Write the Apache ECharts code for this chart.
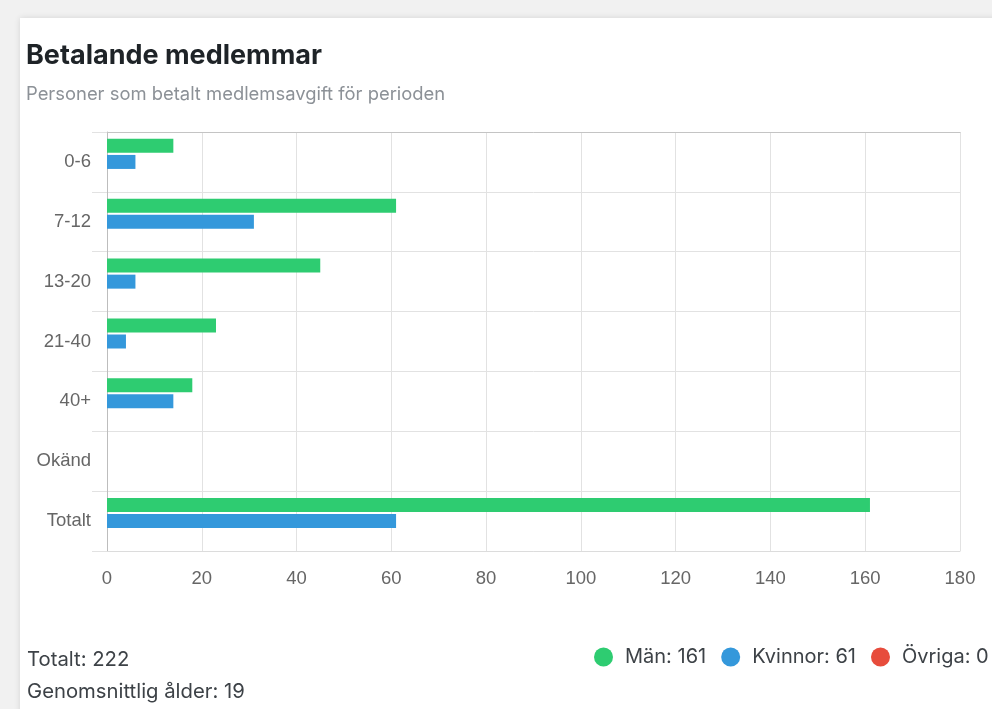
<!DOCTYPE html>
<html>
<head>
<meta charset="utf-8">
<script src="https://cdn.jsdelivr.net/npm/echarts@6/dist/echarts.min.js"></script>
<style>
  html, body { margin: 0; padding: 0; width: 992px; height: 709px; overflow: hidden; background: #f1f1f1; }
  #card { position: absolute; left: 20px; top: 18px; width: 1000px; height: 720px; background: #fff;
          box-shadow: 0 0 6px rgba(0,0,0,0.12); }
  #chart { position: absolute; left: 0; top: 0; width: 992px; height: 709px; }
</style>
</head>
<body>
<div id="card"></div>
<div id="chart"></div>
<script>
const categories = ['0-6', '7-12', '13-20', '21-40', '40+', 'Okänd', 'Totalt'];
const manValues = [14, 61, 45, 23, 18, 0, 161];
const kvinnorValues = [6, 31, 6, 4, 14, 0, 61];
const ovrigaValues = [0, 0, 0, 0, 0, 0, 0];
const xTicks = { min: 0, max: 180, interval: 20 };
const titleText = 'Betalande medlemmar';
const subtitleText = 'Personer som betalt medlemsavgift för perioden';
const totalText = 'Totalt: 222';
const avgAgeText = 'Genomsnittlig ålder: 19';

const seriesNames = ['Män', 'Kvinnor', 'Övriga'];
const seriesColors = ['#2ecc71', '#3498db', '#e74c3c'];
const seriesData = [manValues, kvinnorValues, ovrigaValues];
const totals = {};
seriesNames.forEach((n, i) => { totals[n] = seriesData[i][categories.indexOf('Totalt')]; });

const uiFont = 'Inter, "Open Sans", sans-serif';
const axisFont = '"Liberation Sans", Arial, sans-serif';

const chart = echarts.init(document.getElementById('chart'), null, { renderer: 'canvas' });
chart.setOption({
  animation: false,
  grid: { left: 107, right: 32, top: 132, bottom: 158, containLabel: false },
  legend: {
    left: 594, top: 647, width: 600, padding: 0,
    icon: 'circle', itemWidth: 19, itemHeight: 19, itemGap: 15,
    data: seriesNames,
    formatter: name => name + ': ' + totals[name],
    textStyle: { fontFamily: uiFont, fontSize: 20, color: '#3d4247', padding: [7, 0, 0, 7] }
  },
  xAxis: [
    {
      type: 'value', min: xTicks.min, max: xTicks.max, interval: xTicks.interval,
      axisLine: { show: true, lineStyle: { color: '#dcdcdc' } },
      axisTick: { show: false },
      axisLabel: { fontFamily: axisFont, fontSize: 18.5, color: '#666', margin: 18 },
      splitLine: { show: true, lineStyle: { color: '#e2e2e2' } }
    },
    {
      type: 'value', position: 'top', min: xTicks.min, max: xTicks.max, interval: xTicks.interval,
      axisLine: { show: true, lineStyle: { color: '#c4c4c4' } },
      axisTick: { show: false }, axisLabel: { show: false }, splitLine: { show: false }
    }
  ],
  yAxis: {
    type: 'category', data: categories, inverse: true,
    axisLine: { show: true, lineStyle: { color: '#bdbdbd' } },
    axisTick: { show: true, length: 15, lineStyle: { color: '#e2e2e2' } },
    axisLabel: { fontFamily: axisFont, fontSize: 18.5, color: '#666', margin: 16 },
    splitLine: { show: true, lineStyle: { color: '#e2e2e2' } }
  },
  series: seriesNames.map((n, i) => ({
    name: n, type: 'bar', data: seriesData[i],
    barWidth: 14, barGap: '15%',
    itemStyle: { color: seriesColors[i] }
  })),
  graphic: [
    { type: 'text', x: 26, y: 56,
      style: { text: titleText, font: 'bold 27px ' + uiFont, fill: '#1e2327', verticalAlign: 'middle' } },
    { type: 'text', x: 26, y: 94,
      style: { text: subtitleText, font: '18.4px ' + uiFont, fill: '#8c9197', verticalAlign: 'middle' } },
    { type: 'text', x: 27, y: 660,
      style: { text: totalText, font: '20.3px ' + uiFont, fill: '#3d4247', verticalAlign: 'middle' } },
    { type: 'text', x: 27, y: 692,
      style: { text: avgAgeText, font: '20.3px ' + uiFont, fill: '#3d4247', verticalAlign: 'middle' } }
  ]
});
</script>
</body>
</html>
